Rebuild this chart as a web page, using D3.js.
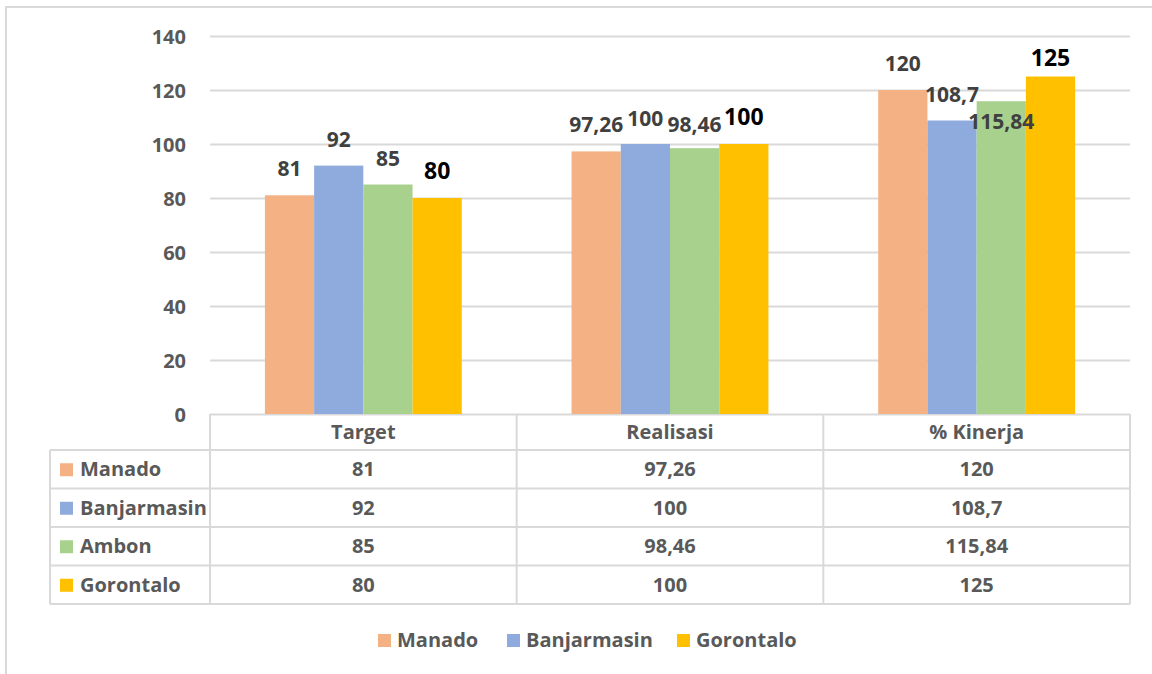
<!DOCTYPE html>
<html>
<head>
<meta charset="utf-8">
<script src="https://cdn.jsdelivr.net/npm/d3@7"></script>
<style>
  body { margin: 0; background: #fff; }
  svg text { font-family: "Open Sans", sans-serif; font-weight: 700; }
</style>
</head>
<body>
<div id="chart"></div>
<script>
// data
const categories = ['Target', 'Realisasi', '% Kinerja'];
const seriesNames = ['Manado', 'Banjarmasin', 'Ambon', 'Gorontalo'];
const manado = [81, 97.26, 120];
const banjarmasin = [92, 100, 108.7];
const ambon = [85, 98.46, 115.84];
const gorontalo = [80, 100, 125];
const yTicks = [0, 20, 40, 60, 80, 100, 120, 140];
const legendShown = ['Manado', 'Banjarmasin', 'Gorontalo'];

const colors = ['#F4B183', '#8FAADC', '#A9D18E', '#FFC000'];
const values = [manado, banjarmasin, ambon, gorontalo];
const fmt = v => String(v).replace('.', ',');

const W = 1152, H = 674;
const plot = { left: 210, right: 1130, top: 36, bottom: 414 };
const tableLeft = 50, rowH = 38.5, headH = 36;

const svg = d3.select('#chart').append('svg')
  .attr('width', W).attr('height', H);

// outer frame
svg.append('rect')
  .attr('x', 6).attr('y', 7)
  .attr('width', W + 10).attr('height', H + 10)
  .attr('fill', 'none').attr('stroke', '#d9d9d9').attr('stroke-width', 2);

const x0 = d3.scaleBand().domain(categories).range([plot.left, plot.right]);
const x1 = d3.scaleBand().domain(seriesNames)
  .range([x0.bandwidth() * 0.179, x0.bandwidth() * 0.821]);
const y = d3.scaleLinear().domain([0, 140]).range([plot.bottom, plot.top]);

// gridlines
const grid = svg.append('g')
  .attr('transform', `translate(${plot.left},0)`)
  .call(d3.axisLeft(y).tickValues(yTicks).tickSize(-(plot.right - plot.left)).tickFormat(''));
grid.select('.domain').remove();
grid.selectAll('line').attr('stroke', '#d9d9d9').attr('stroke-width', 2);

// y labels
const yAxis = svg.append('g')
  .attr('transform', `translate(189,0)`)
  .call(d3.axisLeft(y).tickValues(yTicks).tickSize(0));
yAxis.select('.domain').remove();
yAxis.selectAll('text')
  .attr('fill', '#595959').style('font-size', '20px').attr('dy', '0.35em');

// bars
const points = seriesNames.flatMap((s, i) =>
  categories.map((c, j) => ({ s, c, v: values[i][j], i })));

svg.append('g').selectAll('rect')
  .data(points)
  .join('rect')
  .attr('x', d => x0(d.c) + x1(d.s))
  .attr('y', d => y(d.v))
  .attr('width', x1.bandwidth())
  .attr('height', d => y(0) - y(d.v))
  .attr('fill', d => colors[d.i]);

// data labels, drawn over all bars (manual nudges like the original)
const labelShift = { 'Gorontalo|% Kinerja': 8, 'Ambon|% Kinerja': 47, 'Banjarmasin|Realisasi': 1, 'Ambon|Realisasi': 3 };
svg.append('g').selectAll('text')
  .data(points)
  .join('text')
  .attr('x', d => x0(d.c) + x1(d.s) + x1.bandwidth() / 2)
  .attr('y', d => y(d.v) - 19 + (labelShift[d.s + '|' + d.c] || 0))
  .attr('text-anchor', 'middle')
  .attr('fill', d => d.s === 'Gorontalo' ? '#000' : '#404040')
  .style('font-size', d => d.s === 'Gorontalo' ? '23px' : '21px')
  .text(d => fmt(d.v));

// data table
const table = svg.append('g')
  .attr('stroke', '#d9d9d9').attr('stroke-width', 2);
const tableBottom = plot.bottom + headH + rowH * seriesNames.length;
const colEdges = categories.map(c => x0(c)).concat([plot.right]);
colEdges.forEach(xe => {
  table.append('line').attr('x1', xe).attr('x2', xe)
    .attr('y1', plot.bottom).attr('y2', tableBottom);
});
table.append('line').attr('x1', tableLeft).attr('x2', tableLeft)
  .attr('y1', plot.bottom + headH).attr('y2', tableBottom);
d3.range(seriesNames.length + 1).forEach(k => {
  const yy = plot.bottom + headH + rowH * k;
  table.append('line').attr('x1', tableLeft).attr('x2', plot.right)
    .attr('y1', yy).attr('y2', yy);
});

svg.append('g').selectAll('text')
  .data(categories)
  .join('text')
  .attr('x', d => x0(d) + x0.bandwidth() / 2)
  .attr('y', plot.bottom + headH / 2)
  .attr('dy', '0.35em')
  .attr('text-anchor', 'middle')
  .attr('fill', '#595959')
  .style('font-size', '20px')
  .text(d => d);

const rows = svg.append('g').selectAll('g')
  .data(seriesNames)
  .join('g')
  .attr('transform', (d, i) => `translate(0,${plot.bottom + headH + rowH * i + rowH / 2})`);
rows.append('rect')
  .attr('x', 60).attr('y', -6).attr('width', 13).attr('height', 13)
  .attr('fill', (d, i) => colors[i]);
rows.append('text')
  .attr('x', 80).attr('dy', '0.35em')
  .attr('fill', '#595959').style('font-size', '20px')
  .text(d => d);
rows.selectAll('text.val')
  .data((s, i) => categories.map((c, j) => ({ c, v: values[i][j] })))
  .join('text')
  .attr('class', 'val')
  .attr('x', d => x0(d.c) + x0.bandwidth() / 2)
  .attr('dy', '0.35em')
  .attr('text-anchor', 'middle')
  .attr('fill', '#595959').style('font-size', '20px')
  .text(d => fmt(d.v));

// legend
const legendX = [378, 507, 677];
const legend = svg.append('g').selectAll('g')
  .data(legendShown)
  .join('g')
  .attr('transform', (d, i) => `translate(${legendX[i]},640)`);
legend.append('rect')
  .attr('x', 0).attr('y', -6).attr('width', 13).attr('height', 13)
  .attr('fill', d => colors[seriesNames.indexOf(d)]);
legend.append('text')
  .attr('x', 19).attr('dy', '0.35em')
  .attr('fill', '#595959').style('font-size', '20px')
  .text(d => d);
</script>
</body>
</html>
